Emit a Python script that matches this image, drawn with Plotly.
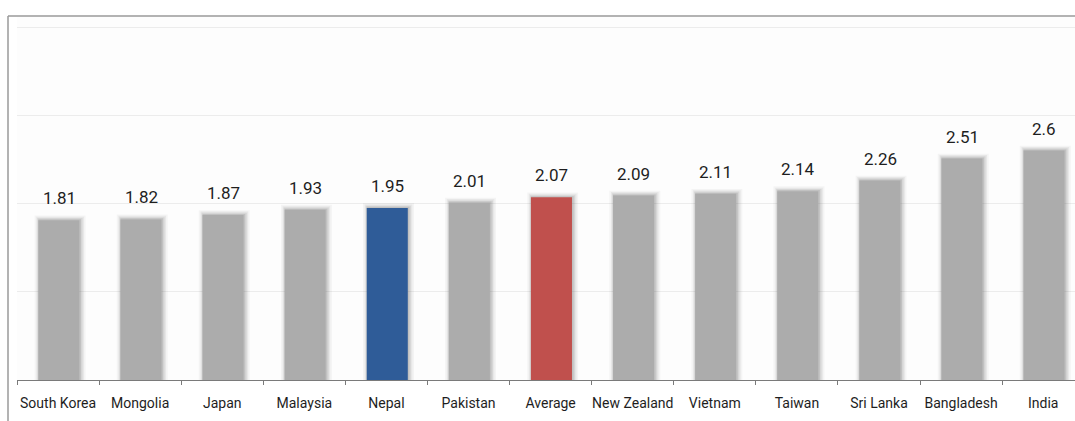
import plotly.graph_objects as go

# Fertility data by country (ascending), with the regional average
countries = ["South Korea", "Mongolia", "Japan", "Malaysia", "Nepal", "Pakistan",
             "Average", "New Zealand", "Vietnam", "Taiwan", "Sri Lanka",
             "Bangladesh", "India"]
values = [1.81, 1.82, 1.87, 1.93, 1.95, 2.01, 2.07, 2.09, 2.11, 2.14, 2.26, 2.51, 2.6]

GRAY = "#acacac"
highlight = {"Nepal": "#2f5c98", "Average": "#c0504d"}
colors = [highlight.get(c, GRAY) for c in countries]

FONT = "Liberation Sans Narrow, Roboto, sans-serif"

W, H = 1075, 421
L, R, T, B = 17, 0, 16, 41

fig = go.Figure()

# soft drop-shadow layers behind each bar
shadow_layers = [
    (0.62, -0.285, 0.055, "rgba(70,70,70,0.05)"),
    (0.58, -0.265, 0.040, "rgba(70,70,70,0.07)"),
    (0.55, -0.252, 0.025, "rgba(70,70,70,0.10)"),
    (0.52, -0.240, 0.012, "rgba(70,70,70,0.14)"),
]
for width, offset, dy, col in shadow_layers:
    fig.add_trace(go.Bar(
        x=countries, y=[v + dy for v in values],
        width=width, offset=offset,
        marker=dict(color=col, line=dict(width=0)),
        hoverinfo="skip", showlegend=False,
    ))

fig.add_trace(go.Bar(
    x=countries, y=values,
    width=0.5, offset=-0.24,
    marker=dict(color=colors, line=dict(width=0)),
    showlegend=False,
))

# value labels above bars
for c, v in zip(countries, values):
    fig.add_annotation(
        x=c, y=v, text=f"{v:g}", showarrow=False,
        yanchor="bottom", yshift=10, xshift=1,
        font=dict(family=FONT, size=17, color="#1e1e1e"),
    )

# frame around the chart (left and top edges)
plot_w = W - L - R
plot_h = H - T - B
x0 = (8 - L) / plot_w
y_bot = -B / plot_h
fig.add_shape(type="line", xref="paper", yref="paper", x0=x0, x1=1.0, y0=1.0, y1=1.0,
              line=dict(color="#9a9a9a", width=1.5))
fig.add_shape(type="line", xref="paper", yref="paper", x0=x0, x1=x0, y0=1.0, y1=y_bot,
              line=dict(color="#9a9a9a", width=1.5))

fig.update_layout(
    width=W, height=H,
    margin=dict(l=L, r=R, t=T, b=B, autoexpand=False),
    barmode="overlay",
    paper_bgcolor="white",
    plot_bgcolor="#fdfdfd",
    font=dict(family=FONT, color="#222222"),
    xaxis=dict(
        range=[-0.5, 12.387],
        automargin=False,
        tickangle=0,
        showline=True, linecolor="#7a7a7a", linewidth=1,
        ticks="outside", tickson="boundaries", ticklen=4, tickcolor="#7a7a7a",
        ticklabelstandoff=10,
        tickfont=dict(family=FONT, size=14, color="#1e1e1e"),
        showgrid=False,
    ),
    yaxis=dict(
        range=[0, 4.125],
        automargin=False,
        tickvals=[1, 2, 3, 4],
        showticklabels=False,
        gridcolor="#ececec", gridwidth=1,
        zeroline=False,
    ),
)

fig.write_html("out.html")
